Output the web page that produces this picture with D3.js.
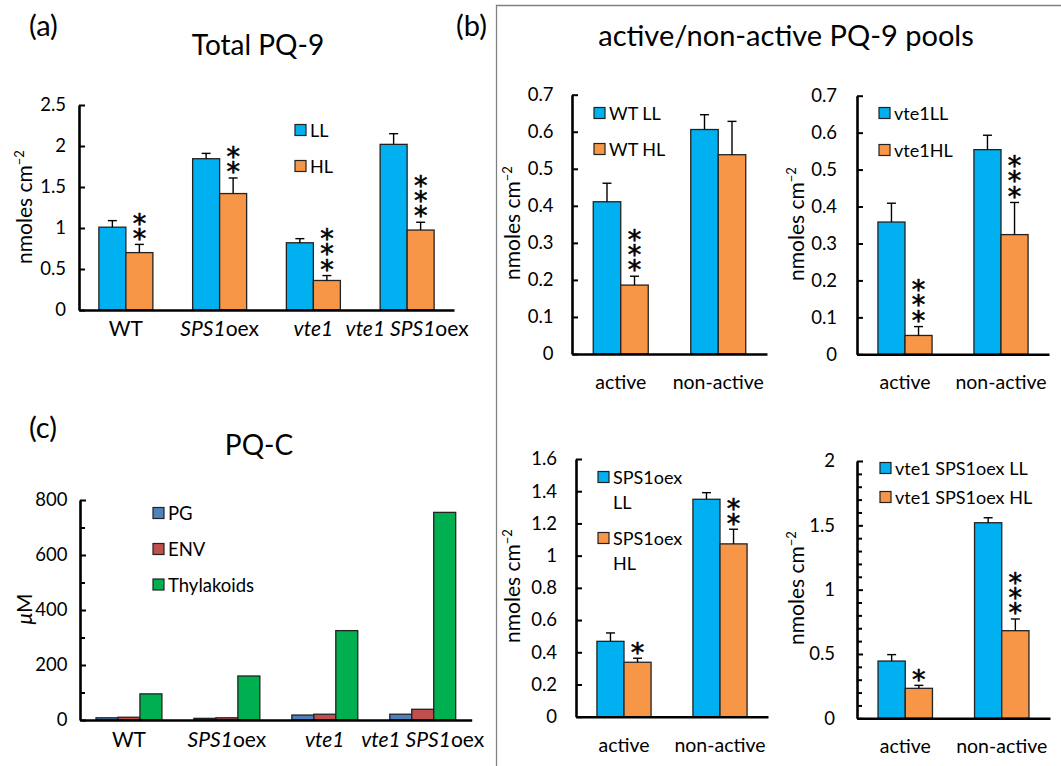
<!DOCTYPE html>
<html><head><meta charset="utf-8">
<script src="https://cdn.jsdelivr.net/npm/d3@7"></script>
<style>
body{margin:0;background:#fff}
text{font-family:Lato,"Open Sans",sans-serif;fill:#000}
</style>
</head><body>
<svg id="chart" width="1061" height="766"></svg>
<script>
// ---------- data ----------
const genotypes = ["WT", "SPS1oex", "vte1", "vte1 SPS1oex"];
const totalLL = [1.01, 1.845, 0.82, 2.02];
const totalLLerr = [0.08, 0.065, 0.05, 0.13];
const totalHL = [0.70, 1.42, 0.36, 0.975];
const totalHLerr = [0.10, 0.19, 0.06, 0.095];
const totalSig = [2, 2, 3, 3];
const totalTicks = [0, 0.5, 1, 1.5, 2, 2.5];

const poolCats = ["active", "non-active"];
const wtLL = [0.411, 0.606], wtLLerr = [0.05, 0.04];
const wtHL = [0.186, 0.538], wtHLerr = [0.024, 0.09];
const wtSig = [3, 0];
const vte1LL = [0.358, 0.554], vte1LLerr = [0.051, 0.039];
const vte1HL = [0.051, 0.324], vte1HLerr = [0.024, 0.087];
const vte1Sig = [3, 3];
const poolTicksTop = [0, 0.1, 0.2, 0.3, 0.4, 0.5, 0.6, 0.7];
const spsLL = [0.468, 1.350], spsLLerr = [0.052, 0.041];
const spsHL = [0.338, 1.073], spsHLerr = [0.025, 0.091];
const spsSig = [1, 2];
const spsTicks = [0, 0.2, 0.4, 0.6, 0.8, 1, 1.2, 1.4, 1.6];
const vsLL = [0.445, 1.520], vsLLerr = [0.05, 0.039];
const vsHL = [0.233, 0.681], vsHLerr = [0.023, 0.091];
const vsSig = [1, 3];
const vsTicks = [0, 0.5, 1, 1.5, 2];
const vsMinor = [0.1,0.2,0.3,0.4,0.6,0.7,0.8,0.9,1.1,1.2,1.3,1.4,1.6,1.7,1.8,1.9];

const pqcPG = [8, 6, 18, 21];
const pqcENV = [10, 8, 21, 39];
const pqcThy = [95, 160, 325, 755];
const pqcTicks = [0, 200, 400, 600, 800];
const pqcMinor = [100, 300, 500, 700];

// ---------- drawing ----------
const svg = d3.select("#chart");
const LL_C = "#00B0F0", HL_C = "#F79646";
const PG_C = "#4F81BD", ENV_C = "#C0504D", THY_C = "#00B050";

function catLabel(g, x, y, name, size) {
  const t = g.append("text").attr("x", x).attr("y", y)
    .attr("text-anchor", "middle").style("font-size", size + "px");
  if (name === "WT" || name === "active" || name === "non-active") { t.text(name); return; }
  const m = name.match(/^(.*?)(oex)?$/);
  t.append("tspan").style("font-style", "italic").text(m[1]);
  if (m[2]) t.append("tspan").text(m[2]);
}

function yLabel(x, y, main, sup, italicFirst) {
  const t = svg.append("text").attr("transform", `translate(${x},${y}) rotate(-90)`)
    .attr("text-anchor", "middle").style("font-size", "21px");
  if (italicFirst) {
    t.append("tspan").style("font-style", "italic").text(italicFirst);
  }
  t.append("tspan").text(main);
  if (sup) t.append("tspan").attr("baseline-shift", "super").style("font-size", "13px").text(sup);
}

function legend(x, y, items, size, lineGap) {
  items.forEach(it => {
    svg.append("rect").attr("x", x).attr("y", it.y - 5.5).attr("width", 11).attr("height", 11)
      .attr("fill", it.color).attr("stroke", "#222").attr("stroke-width", 1.2);
    const lines = it.label.split("\n");
    lines.forEach((ln, k) => {
      svg.append("text").attr("x", x + 15).attr("y", it.y + k * lineGap)
        .attr("dominant-baseline", "central").style("font-size", size + "px").text(ln);
    });
  });
}

function panel(o) {
  const g = svg.append("g");
  const x = d3.scaleBand().domain(o.cats).range([o.left, o.right])
    .paddingInner(o.pi).paddingOuter(o.pi / 2);
  const xs = d3.scaleBand().domain(d3.range(o.series.length)).range([0, x.bandwidth()]);
  const y = d3.scaleLinear().domain([0, o.max]).range([o.bottom, o.top]);

  o.series.forEach((s, si) => {
    g.selectAll(null).data(o.cats).enter().append("rect")
      .attr("x", c => x(c) + xs(si))
      .attr("width", xs.bandwidth())
      .attr("y", (c, i) => y(s.vals[i]))
      .attr("height", (c, i) => y(0) - y(s.vals[i]))
      .attr("fill", s.color).attr("stroke", "#222").attr("stroke-width", 1.3);
    if (s.err) {
      o.cats.forEach((c, i) => {
        const cx = x(c) + xs(si) + xs.bandwidth() / 2;
        const y0 = y(s.vals[i]), y1 = y(s.vals[i] + s.err[i]);
        g.append("line").attr("x1", cx).attr("x2", cx).attr("y1", y0).attr("y2", y1)
          .attr("stroke", "#000").attr("stroke-width", 1.4);
        g.append("line").attr("x1", cx - 4.5).attr("x2", cx + 4.5).attr("y1", y1).attr("y2", y1)
          .attr("stroke", "#000").attr("stroke-width", 1.4);
      });
    }
    if (s.sig) {
      o.cats.forEach((c, i) => {
        const n = s.sig[i];
        if (!n) return;
        const cx = x(c) + xs(si) + xs.bandwidth() / 2;
        const top = y(s.vals[i] + (s.err ? s.err[i] : 0));
        const firstCy = top - 12 - (n - 1) * 15.6;
        g.append("text").attr("x", cx).attr("y", firstCy - 9.1)
          .style("writing-mode", "vertical-rl").style("text-orientation", "upright")
          .style("letter-spacing", "-15.8px")
          .style("font-family", "'DejaVu Sans'").style("font-size", "27px")
          .attr("stroke", "#000").attr("stroke-width", 0.6)
          .text("*".repeat(n));
      });
    }
  });

  // y axis (ticks inward)
  const ay = g.append("g").attr("transform", `translate(${o.left},0)`)
    .call(d3.axisRight(y).tickValues(o.ticks).tickSize(6).tickSizeOuter(0).tickFormat(""));
  ay.select(".domain").attr("stroke", "#000").attr("stroke-width", 2.6);
  ay.selectAll(".tick line").attr("stroke", "#000").attr("stroke-width", 2);
  if (o.minor) {
    const am = g.append("g").attr("transform", `translate(${o.left},0)`)
      .call(d3.axisRight(y).tickValues(o.minor).tickSize(5).tickFormat(""));
    am.select(".domain").remove();
    am.selectAll(".tick line").attr("stroke", "#000").attr("stroke-width", 2);
  }
  const al = g.append("g").attr("transform", `translate(${o.left - o.gap},0)`)
    .call(d3.axisLeft(y).tickValues(o.ticks).tickSize(0).tickPadding(0).tickFormat(o.fmt || (d => d)));
  al.select(".domain").remove();
  al.selectAll("text").style("font-family", "Lato,'Open Sans',sans-serif").style("font-size", "18.5px").attr("fill", "#000");

  // x axis
  const ax = g.append("g").attr("transform", `translate(0,${o.bottom})`)
    .call(d3.axisBottom(x).tickSize(0).tickSizeOuter(0).tickFormat(""));
  ax.select(".domain").attr("stroke", "#000").attr("stroke-width", 2.6);
  o.cats.forEach(c => catLabel(g, x(c) + x.bandwidth() / 2, o.catY, c, o.catSize));
}

// frame for panel (b)
svg.append("path").attr("d", "M496.5,766 V5.5 H1061").attr("fill", "none")
  .attr("stroke", "#808080").attr("stroke-width", 1.3);

// panel letters & titles
svg.append("text").attr("x", 29).attr("y", 36).style("font-size", "29px").text("(a)");
svg.append("text").attr("x", 456).attr("y", 36).style("font-size", "29px").text("(b)");
svg.append("text").attr("x", 29).attr("y", 438).style("font-size", "29px").text("(c)");
svg.append("text").attr("x", 258).attr("y", 55).attr("text-anchor", "middle").style("font-size", "28px").text("Total PQ-9");
svg.append("text").attr("x", 786).attr("y", 46).attr("text-anchor", "middle").style("font-size", "29px").text("active/non-active PQ-9 pools");
svg.append("text").attr("x", 259).attr("y", 455).attr("text-anchor", "middle").style("font-size", "28px").text("PQ-C");

// (a)
panel({cats: genotypes, left: 79, right: 454, bottom: 310, top: 105, max: 2.5, pi: 0.424,
  ticks: totalTicks, gap: 13, catY: 336, catSize: 21,
  series: [{vals: totalLL, err: totalLLerr, color: LL_C},
           {vals: totalHL, err: totalHLerr, color: HL_C, sig: totalSig}]});
yLabel(31.5, 207, "nmoles  cm", "−2");
legend(295, 130, [{y: 130, color: LL_C, label: "LL"}, {y: 166, color: HL_C, label: "HL"}], 18, 0);

// (b) top-left WT
panel({cats: poolCats, left: 572, right: 767, bottom: 354, top: 94.7, max: 0.7, pi: 0.436,
  ticks: poolTicksTop, gap: 18.5, catY: 389, catSize: 19.5,
  series: [{vals: wtLL, err: wtLLerr, color: LL_C},
           {vals: wtHL, err: wtHLerr, color: HL_C, sig: wtSig}]});
yLabel(520, 223, "nmoles  cm", "−2");
legend(594, 113, [{y: 113, color: LL_C, label: "WT LL"}, {y: 149, color: HL_C, label: "WT HL"}], 18, 0);

// (b) top-right vte1
panel({cats: poolCats, left: 857, right: 1049, bottom: 354.3, top: 95.7, max: 0.7, pi: 0.436,
  ticks: poolTicksTop, gap: 20, catY: 389, catSize: 19.5,
  series: [{vals: vte1LL, err: vte1LLerr, color: LL_C},
           {vals: vte1HL, err: vte1HLerr, color: HL_C, sig: vte1Sig}]});
yLabel(804, 224, "nmoles  cm", "−2");
legend(879, 113, [{y: 113, color: LL_C, label: "vte1LL"}, {y: 150, color: HL_C, label: "vte1HL"}], 18, 0);

// (b) bottom-left SPS1oex
panel({cats: poolCats, left: 576, right: 768, bottom: 716.7, top: 459, max: 1.6, pi: 0.436,
  ticks: spsTicks, gap: 19, catY: 752, catSize: 19.5,
  series: [{vals: spsLL, err: spsLLerr, color: LL_C},
           {vals: spsHL, err: spsHLerr, color: HL_C, sig: spsSig}]});
yLabel(520, 586, "nmoles  cm", "−2");
legend(598, 477, [{y: 477, color: LL_C, label: "SPS1oex\nLL"}, {y: 538, color: HL_C, label: "SPS1oex\nHL"}], 18, 24.5);

// (b) bottom-right vte1 SPS1oex
panel({cats: poolCats, left: 857, right: 1050, bottom: 718.3, top: 461, max: 2, pi: 0.436,
  ticks: vsTicks, minor: vsMinor, gap: 22, catY: 753, catSize: 19.5,
  series: [{vals: vsLL, err: vsLLerr, color: LL_C},
           {vals: vsHL, err: vsHLerr, color: HL_C, sig: vsSig}]});
yLabel(804, 588, "nmoles  cm", "−2");
legend(880, 468, [{y: 468, color: LL_C, label: "vte1 SPS1oex LL"}, {y: 497, color: HL_C, label: "vte1 SPS1oex HL"}], 18, 0);

// (c)
panel({cats: genotypes, left: 80, right: 471.7, bottom: 720, top: 500, max: 800, pi: 0.327,
  ticks: pqcTicks, minor: pqcMinor, gap: 12.5, catY: 747, catSize: 21,
  series: [{vals: pqcPG, color: PG_C}, {vals: pqcENV, color: ENV_C}, {vals: pqcThy, color: THY_C}]});
yLabel(31.5, 609, "M", null, "μ");
legend(153, 513, [{y: 513, color: PG_C, label: "PG"}, {y: 549, color: ENV_C, label: "ENV"}, {y: 584.5, color: THY_C, label: "Thylakoids"}], 18.5, 0);
</script>
</body></html>
